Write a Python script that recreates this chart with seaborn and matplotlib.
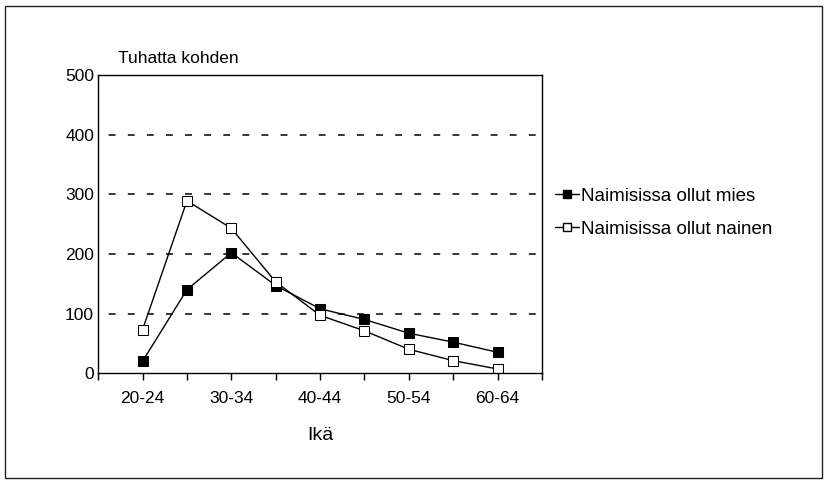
import matplotlib
matplotlib.use("Agg")

import pandas as pd
import matplotlib.pyplot as plt
import seaborn as sns
from matplotlib.patches import Rectangle

# ======================
# DATA
# ======================
age_groups = ["20-24", "25-29", "30-34", "35-39", "40-44",
              "45-49", "50-54", "55-59", "60-64"]
men = [20, 140, 202, 147, 108, 90, 67, 52, 35]
women = [73, 289, 243, 153, 97, 71, 40, 21, 7]
series_names = ["Naimisissa ollut mies", "Naimisissa ollut nainen"]
y_ticks = [0, 100, 200, 300, 400, 500]

df = pd.DataFrame({
    "pos": list(range(len(age_groups))) * 2,
    "value": men + women,
    "series": [series_names[0]] * len(men) + [series_names[1]] * len(women),
})

# ======================
# STYLE
# ======================
sns.set_theme(style="white")
plt.rcParams["font.family"] = ["Liberation Sans", "DejaVu Sans"]
plt.rcParams["text.color"] = "black"
plt.rcParams["xtick.color"] = "black"
plt.rcParams["ytick.color"] = "black"
plt.rcParams["axes.labelcolor"] = "black"

fig = plt.figure(figsize=(8.25, 4.84), dpi=100)
ax = fig.add_axes([0.119, 0.229, 0.538, 0.616])

# outer frame
fig.patches.append(Rectangle((0.006, 0.012), 0.99, 0.975, transform=fig.transFigure,
                             fill=False, edgecolor="#222222", linewidth=1.0))

sns.lineplot(data=df, x="pos", y="value", hue="series", style="series",
             palette=["black", "black"], markers=["s", "s"], dashes=False,
             linewidth=1.0, markersize=7, ax=ax, legend=False)

# marker faces
lines = ax.get_lines()
lines[0].set_markerfacecolor("black")
lines[0].set_markeredgecolor("black")
lines[1].set_markerfacecolor("white")
lines[1].set_markeredgecolor("black")

# gridlines
for v in y_ticks[1:-1]:
    ax.axhline(v, color="black", linewidth=1.1, linestyle=(18, (4.5, 8)), zorder=0)

ax.set_xlim(-1, len(age_groups))
ax.set_ylim(0, 500)
ax.set_yticks(y_ticks)
ax.set_yticklabels([str(v) for v in y_ticks], fontsize=12.5)

xt = list(range(-1, len(age_groups) + 1))
ax.set_xticks(xt)
ax.set_xticklabels([age_groups[i] if 0 <= i < len(age_groups) and i % 2 == 0 else ""
                    for i in xt], fontsize=12.5)
ax.tick_params(axis="x", direction="out", length=5, width=1, color="black",
               bottom=True, pad=8)
ax.tick_params(axis="y", length=0, pad=3)

for s in ax.spines.values():
    s.set_color("black")
    s.set_linewidth(1.0)

ax.set_xlabel("Ikä", fontsize=14, labelpad=15)
ax.set_ylabel("")
fig.text(0.143, 0.88, "Tuhatta kohden", fontsize=12.5, ha="left", va="center")

# legend
handles = [
    plt.Line2D([], [], color="black", marker="s", markersize=6, markerfacecolor="black", linewidth=1),
    plt.Line2D([], [], color="black", marker="s", markersize=6, markerfacecolor="white", linewidth=1),
]
fig.legend(handles, series_names, loc="center left", bbox_to_anchor=(0.652, 0.56),
           frameon=False, fontsize=13.5, handlelength=1.3, handletextpad=0.1,
           labelspacing=0.85)

fig.savefig("out.png", dpi=100)
